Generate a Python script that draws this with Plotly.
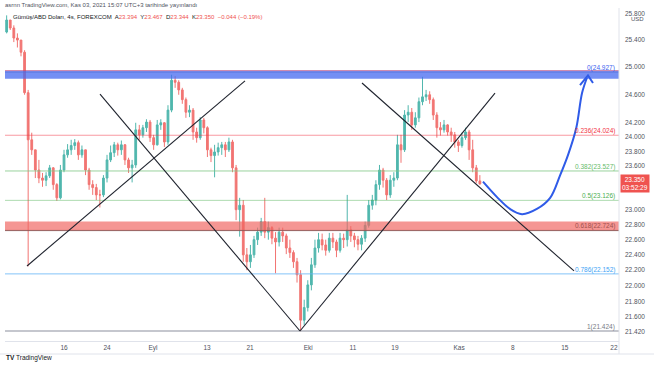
import math
import plotly.graph_objects as go

# ---------------- data ----------------
first_open = 25.52
closes = [
    25.70, 25.58, 25.43, 25.40, 25.22, 24.63, 23.96, 23.82, 23.54, 23.43,
    23.40, 23.46, 23.57, 23.34, 23.16, 23.54, 23.75, 23.82, 23.88, 23.92,
    23.75, 23.82, 23.54, 23.34, 23.30, 23.20, 23.20, 23.43, 23.68, 23.78,
    23.89, 23.82, 23.89, 23.68, 23.57, 23.61, 24.10, 24.03, 24.13, 24.21,
    23.99, 23.89, 24.17, 24.20, 23.93, 24.38, 24.81, 24.78, 24.67, 24.53,
    24.35, 24.38, 24.07, 23.99, 24.24, 24.13, 23.82, 23.74, 23.79, 23.85,
    23.89, 23.82, 23.93, 23.57, 23.00, 23.06, 22.40, 22.31, 22.40, 22.60,
    22.70, 22.84, 22.70, 22.76, 22.62, 22.57, 22.70, 22.65, 22.49, 22.43,
    22.31, 22.14, 21.56, 21.72, 22.01, 22.27, 22.49, 22.60, 22.53, 22.46,
    22.62, 22.57, 22.46, 22.62, 22.60, 22.73, 22.65, 22.60, 22.54, 22.62,
    22.79, 23.06, 23.13, 23.34, 23.54, 23.40, 23.20, 23.40, 23.43, 23.89,
    23.82, 24.31, 24.35, 24.17, 24.27, 24.50, 24.57, 24.60, 24.53, 24.31,
    24.13, 24.10, 24.17, 24.07, 24.03, 23.93, 23.88, 23.99, 24.07, 23.82,
    23.57, 23.39, 23.35]
highs = [
    25.77, 25.70, 25.62, 25.50, 25.40, 25.25, 24.67, 24.06, 23.82, 23.68,
    23.50, 23.51, 23.61, 23.58, 23.36, 23.61, 23.82, 23.90, 23.96, 23.97,
    23.95, 23.88, 23.82, 23.57, 23.40, 23.35, 23.27, 23.47, 23.75, 23.88,
    23.93, 23.92, 23.95, 23.90, 23.71, 23.68, 24.20, 24.17, 24.17, 24.25,
    24.24, 24.03, 24.24, 24.25, 24.21, 24.45, 24.89, 24.87, 24.81, 24.70,
    24.56, 24.45, 24.41, 24.13, 24.28, 24.27, 24.15, 23.85, 23.89, 23.92,
    23.93, 23.93, 23.99, 23.96, 23.61, 23.16, 23.13, 22.49, 22.53, 22.65,
    22.76, 22.89, 23.16, 22.84, 22.78, 22.70, 22.76, 22.76, 22.68, 22.60,
    22.46, 22.36, 22.20, 21.82, 22.07, 22.36, 22.60, 22.69, 22.68, 22.60,
    22.69, 22.69, 22.60, 22.69, 22.68, 23.20, 22.78, 22.69, 22.65, 22.66,
    22.84, 23.13, 23.20, 23.40, 23.61, 23.57, 23.43, 23.47, 23.51, 24.03,
    24.03, 24.38, 24.45, 24.41, 24.35, 24.56, 24.86, 24.67, 24.65, 24.56,
    24.35, 24.21, 24.24, 24.18, 24.13, 24.07, 23.96, 24.06, 24.13, 24.10,
    23.96, 23.61, 23.47]
lows = [
    25.50, 25.55, 25.37, 25.29, 25.16, 24.60, 22.25, 23.75, 23.43, 23.36,
    23.31, 23.32, 23.43, 23.27, 23.12, 23.14, 23.51, 23.71, 23.75, 23.82,
    23.68, 23.71, 23.47, 23.27, 23.20, 23.13, 23.03, 23.17, 23.37, 23.65,
    23.72, 23.74, 23.75, 23.61, 23.50, 23.37, 23.57, 23.96, 23.99, 24.07,
    23.93, 23.82, 23.88, 24.10, 23.86, 23.89, 24.35, 24.70, 24.60, 24.47,
    24.27, 24.28, 23.96, 23.92, 23.96, 24.05, 23.72, 23.65, 23.44, 23.74,
    23.75, 23.72, 23.79, 23.51, 22.86, 22.64, 22.31, 22.20, 22.23, 22.36,
    22.53, 22.65, 22.62, 22.60, 22.54, 22.16, 22.51, 22.57, 22.41, 22.36,
    22.23, 22.04, 21.42, 21.50, 21.67, 21.94, 22.23, 22.43, 22.46, 22.39,
    22.43, 22.49, 22.37, 22.43, 22.49, 22.51, 22.57, 22.50, 22.46, 22.46,
    22.57, 22.76, 23.00, 23.06, 23.27, 23.30, 23.13, 23.16, 23.31, 23.40,
    23.64, 23.79, 24.21, 24.10, 24.13, 24.21, 24.45, 24.51, 24.47, 24.24,
    23.99, 24.02, 24.06, 24.02, 23.93, 23.85, 23.79, 23.85, 23.96, 23.68,
    23.51, 23.36, 23.34]
opens = [first_open] + closes[:-1]
bar_index = list(range(len(closes)))

# time axis labels (positions in bar-index units)
x_tick_labels = ["16", "24", "Eyl", "13", "21", "Eki", "11", "19", "Kas", "8", "15", "22"]
x_tick_pos = [16.0, 28.0, 40.8, 55.9, 67.9, 84.1, 96.6, 108.3, 126.2, 141.2, 155.7, 169.4]

y_tick_vals = [25.8, 25.4, 25.0, 24.6, 24.2, 24.0, 23.8, 23.6, 23.4, 23.0,
               22.8, 22.6, 22.4, 22.2, 22.0, 21.8, 21.6, 21.42]

# Fibonacci retracement
fib_ratios = ["0", "0.236", "0.382", "0.5", "0.618", "0.786", "1"]
fib_prices = [24.927, 24.024, 23.527, 23.126, 22.724, 22.152, 21.424]

# zones
resistance_zone = [24.83, 24.95]
support_zone = [22.72, 22.84]

# hand-drawn trend lines: (bar0, price0, bar1, price1)
trend_lines = [
    (5.68, 22.255, 66.49, 24.80),
    (26.04, 24.61, 81.83, 21.424),
    (81.83, 21.424, 136.22, 24.625),
    (99.12, 24.77, 158.26, 22.19),
]

# projected path (blue arrow)
forecast_bar = [132.87, 136.78, 140.4, 143.75, 147.9, 151.6, 154.4, 156.6, 158.9, 160.5, 161.9]
forecast_price = [23.38, 23.17, 23.01, 22.94, 23.01, 23.16, 23.47, 23.75, 24.13, 24.625, 24.85]
arrow_bar = [159.93, 162.16, 163.56]
arrow_price = [24.74, 24.88, 24.77]

header_ohlc = ["23.394", "23.467", "23.344", "23.350"]
header_change = "−0.044 (−0.19%)"

# ---------------- figure ----------------
W, H = 654, 366
ML, MR, MT, MB = 5, 35, 8, 25
PW, PH = W - ML - MR, H - MT - MB
XMIN = -0.46
XMAX = XMIN + PW / 3.585
YMIN, YMAX = 1.328359, 1.412984

FONT = "Liberation Sans, Arial, sans-serif"
UP, DOWN = "#26a69a", "#ef5350"


def px_x(px):
    return (px - ML) / PW


def px_y(py):
    return (H - MB - py) / PH


fig = go.Figure()

fig.add_trace(go.Candlestick(
    x=bar_index, open=opens, high=highs, low=lows, close=closes,
    increasing=dict(line=dict(color=UP, width=1), fillcolor=UP),
    decreasing=dict(line=dict(color=DOWN, width=1), fillcolor=DOWN),
    whiskerwidth=0, opacity=0.8, showlegend=False, hoverinfo="skip",
))

fib_line_colors = ["rgba(120,123,134,0.6)", "rgba(242,54,69,0.5)", "rgba(129,199,132,0.8)",
                   "rgba(76,175,80,0.45)", "rgba(130,90,90,0.7)", "rgba(100,181,246,0.8)",
                   "rgba(178,181,190,1)"]
fib_label_colors = ["#3d5ff0", "#f23645", "#66bb6a", "#4caf50", "#a0504c", "#42a5f5", "#787b86"]
fib_widths = [1, 1, 1, 1, 1, 1, 1.6]

for p, c, w in zip(fib_prices, fib_line_colors, fib_widths):
    fig.add_trace(go.Scatter(x=[XMIN, XMAX], y=[p, p], mode="lines",
                             line=dict(color=c, width=w), showlegend=False, hoverinfo="skip"))

# zones drawn over the candles (semi transparent)
for (lo, hi), fc in [(resistance_zone, "rgba(70,105,240,0.75)"), (support_zone, "rgba(240,100,96,0.68)")]:
    fig.add_trace(go.Scatter(x=[XMIN, XMAX, XMAX, XMIN, XMIN], y=[lo, lo, hi, hi, lo],
                             mode="lines", fill="toself", fillcolor=fc,
                             line=dict(width=0), showlegend=False, hoverinfo="skip"))
fig.add_trace(go.Scatter(x=[XMIN, XMAX], y=[resistance_zone[1]] * 2, mode="lines",
                         line=dict(color="rgba(242,54,69,0.45)", width=1), showlegend=False, hoverinfo="skip"))
fig.add_trace(go.Scatter(x=[XMIN, XMAX], y=[support_zone[0]] * 2, mode="lines",
                         line=dict(color="rgba(110,80,80,0.6)", width=1), showlegend=False, hoverinfo="skip"))

for b0, p0, b1, p1 in trend_lines:
    fig.add_trace(go.Scatter(x=[b0, b1], y=[p0, p1], mode="lines",
                             line=dict(color="#1e222d", width=1.1), showlegend=False, hoverinfo="skip"))

fig.add_trace(go.Scatter(x=forecast_bar, y=forecast_price, mode="lines",
                         line=dict(color="#2f5be8", width=2, shape="spline", smoothing=1.0),
                         showlegend=False, hoverinfo="skip"))
fig.add_trace(go.Scatter(x=arrow_bar, y=arrow_price, mode="lines",
                         line=dict(color="#2f5be8", width=2), showlegend=False, hoverinfo="skip"))

ann = []
for r, p, c in zip(fib_ratios, fib_prices, fib_label_colors):
    ann.append(dict(xref="paper", yref="y", x=1, y=math.log10(p), xanchor="right", yanchor="middle",
                    xshift=-2, yshift=4, text=f"{r}({p:.3f})", showarrow=False,
                    font=dict(family=FONT, size=6.5, color=c)))

ann.append(dict(xref="paper", yref="y", x=1, y=math.log10(closes[-1]), xanchor="left", yanchor="middle",
                xshift=1, text=f"{closes[-1]:.3f}<br>03:52:29", showarrow=False, align="center",
                bgcolor=DOWN, borderpad=1, font=dict(family=FONT, size=6.5, color="white")))
ann.append(dict(xref="paper", yref="paper", x=1, y=px_y(19), xanchor="left", yanchor="middle",
                xshift=10, text="USD", showarrow=False, font=dict(family=FONT, size=6, color="#50535e")))

ann.append(dict(xref="paper", yref="paper", x=px_x(3), y=px_y(5), xanchor="left", yanchor="middle",
                text="asrnn TradingView.com, Kas 03, 2021 15:07 UTC+3 tarihinde yayınlandı",
                showarrow=False, font=dict(family=FONT, size=6, color="#50535e")))
red = "#ef5350"
hdr = ("Gümüş/ABD Doları, 4s, FOREXCOM  "
       f"A<span style='color:{red}'>{header_ohlc[0]}</span>  "
       f"Y<span style='color:{red}'>{header_ohlc[1]}</span>  "
       f"D<span style='color:{red}'>{header_ohlc[2]}</span>  "
       f"K<span style='color:{red}'>{header_ohlc[3]}</span>  "
       f"<span style='color:{red}'>{header_change}</span>")
ann.append(dict(xref="paper", yref="paper", x=px_x(11), y=px_y(17), xanchor="left", yanchor="middle",
                text=hdr, showarrow=False, font=dict(family=FONT, size=6.0, color="#131722")))
ann.append(dict(xref="paper", yref="paper", x=px_x(4), y=px_y(358), xanchor="left", yanchor="middle",
                text="<b>TV</b> TradingView", showarrow=False,
                font=dict(family=FONT, size=6.5, color="#131722")))

shapes = [
    dict(type="line", xref="paper", yref="paper", x0=px_x(0), x1=px_x(W), y0=px_y(354), y1=px_y(354),
         line=dict(color="#e0e3eb", width=1)),
    dict(type="line", xref="paper", yref="paper", x0=1, x1=1, y0=px_y(354), y1=px_y(MT),
         line=dict(color="#e0e3eb", width=1)),
]

fig.update_layout(
    width=W, height=H,
    margin=dict(l=ML, r=MR, t=MT, b=MB),
    paper_bgcolor="white", plot_bgcolor="white",
    showlegend=False,
    annotations=ann, shapes=shapes,
    font=dict(family=FONT, size=6.5, color="#50535e"),
    xaxis=dict(range=[XMIN, XMAX], tickvals=x_tick_pos, ticktext=x_tick_labels,
               showgrid=False, zeroline=False, showline=True, linecolor="#e0e3eb",
               ticks="", tickfont=dict(family=FONT, size=6.5, color="#50535e"),
               rangeslider=dict(visible=False), automargin=False, fixedrange=True),
    yaxis=dict(type="log", range=[YMIN, YMAX], side="right",
               tickvals=y_tick_vals, ticktext=[f"{v:.3f}" for v in y_tick_vals],
               showgrid=False, zeroline=False, showline=False, ticks="",
               ticklabelstandoff=5,
               tickfont=dict(family=FONT, size=6.5, color="#50535e"), automargin=False, fixedrange=True),
)

fig.write_html("out.html", config={"displayModeBar": False},
               post_script="document.body.style.margin='0px';document.body.style.overflow='hidden';")
